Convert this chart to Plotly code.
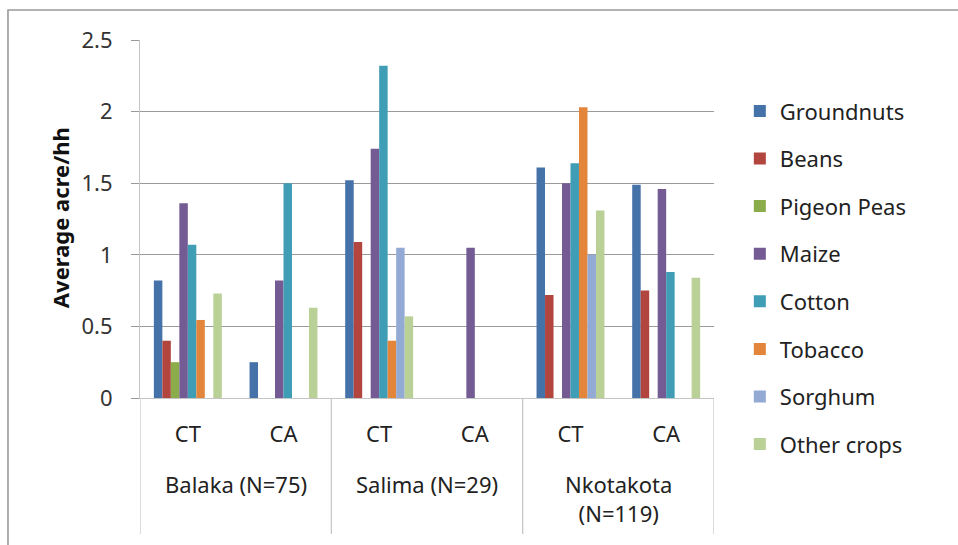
import plotly.graph_objects as go

# Survey groups: district (sample size) and tillage practice
districts = ["Balaka (N=75)", "Salima (N=29)", "Nkotakota<br>(N=119)"]
practices = ["CT", "CA", "CT", "CA", "CT", "CA"]
group_pos = [0, 1, 2, 3, 4, 5]

# Average acreage per household by crop
crops = ["Groundnuts", "Beans", "Pigeon Peas", "Maize", "Cotton",
         "Tobacco", "Sorghum", "Other crops"]
groundnuts = [0.82, 0.25, 1.52, 0, 1.61, 1.49]
beans = [0.40, 0, 1.09, 0, 0.72, 0.75]
pigeon_peas = [0.25, 0, 0, 0, 0, 0]
maize = [1.36, 0.82, 1.74, 1.05, 1.50, 1.46]
cotton = [1.07, 1.50, 2.32, 0, 1.64, 0.88]
tobacco = [0.545, 0, 0.40, 0, 2.03, 0]
sorghum = [0, 0, 1.05, 0, 1.00, 0]
other_crops = [0.73, 0.63, 0.57, 0, 1.31, 0.84]

series = [groundnuts, beans, pigeon_peas, maize, cotton, tobacco, sorghum, other_crops]
colors = ["#4572a9", "#b2463f", "#8bac4b", "#745b93", "#409db6",
          "#e3853b", "#93aad5", "#b9d097"]

FONT = "Noto Sans"
TXT = "#222222"

fig = go.Figure()
for i, (name, vals, col) in enumerate(zip(crops, series, colors)):
    fig.add_trace(go.Bar(
        name=name, x=group_pos, y=vals,
        marker=dict(color=col, line=dict(width=0)),
        legendgroup=f"g{i}",
    ))

# district labels beneath the practice labels
annotations = []
for k, d in enumerate(districts):
    annotations.append(dict(
        x=2 * k + 0.5, xref="x", y=-0.193, yref="paper",
        text=d, showarrow=False, xanchor="center", yanchor="top",
        font=dict(family=FONT, size=22, color=TXT),
    ))
# y-axis title
annotations.append(dict(
    x=-0.139, xref="paper", y=0.503, yref="paper",
    text="<b>Average acre/hh</b>", textangle=-90, showarrow=False,
    xanchor="center", yanchor="middle",
    font=dict(family=FONT, size=22, color="#111111"),
))

shapes = []
# divider lines between districts, running through the label rows
for xb in [-0.5, 1.5, 3.5, 5.5]:
    shapes.append(dict(type="line", xref="x", yref="paper",
                       x0=xb, x1=xb, y0=0, y1=-0.38,
                       line=dict(color="#c4c4c4", width=1.2)))
# chart frame
shapes.append(dict(type="rect", xref="paper", yref="paper",
                   x0=-0.230, x1=1.46, y0=1.0838, y1=-0.46,
                   line=dict(color="#9a9a9a", width=1.6),
                   fillcolor="rgba(0,0,0,0)", layer="below"))

fig.update_layout(
    width=958, height=545,
    margin=dict(l=140, r=244, t=40, b=147),
    paper_bgcolor="white", plot_bgcolor="white",
    barmode="group", bargap=0.29, bargroupgap=0,
    font=dict(family=FONT, size=22, color=TXT),
    showlegend=True,
    legend=dict(
        x=1.045, xanchor="left", y=0.86, yanchor="top",
        font=dict(family=FONT, size=22, color=TXT),
        tracegroupgap=16, traceorder="grouped",
        bgcolor="rgba(0,0,0,0)", maxheight=530,
    ),
    xaxis=dict(
        range=[-0.5, 5.5], tickmode="array", tickvals=group_pos,
        ticktext=practices, ticks="outside", ticklen=0,
        ticklabelstandoff=16, showgrid=False, zeroline=False,
        showline=True, linecolor="#c4c4c4", linewidth=1.2,
        tickfont=dict(family=FONT, size=22, color=TXT),
    ),
    yaxis=dict(
        range=[0, 2.5], tickmode="array",
        tickvals=[0, 0.5, 1, 1.5, 2, 2.5],
        ticktext=["0", "0.5", "1", "1.5", "2", "2.5"],
        ticks="outside", ticklen=8, tickcolor="#9a9a9a", tickwidth=1,
        ticklabelstandoff=14,
        showgrid=True, gridcolor="#9a9a9a", gridwidth=1.2,
        zeroline=False, showline=True, linecolor="#c4c4c4", linewidth=1.2,
        tickfont=dict(family=FONT, size=22, color="#333333"),
    ),
    annotations=annotations,
    shapes=shapes,
)

fig.write_html("out.html")
